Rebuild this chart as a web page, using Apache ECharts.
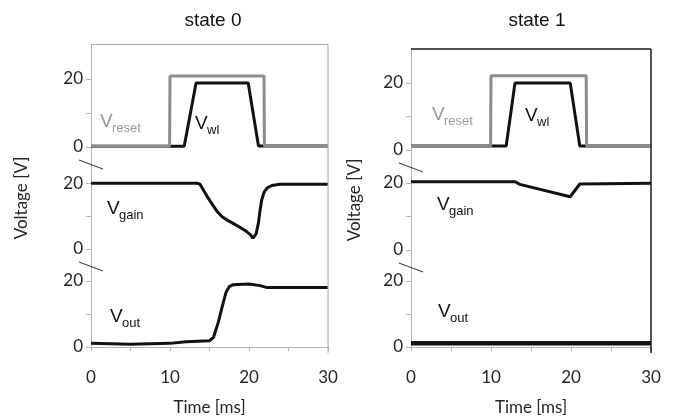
<!DOCTYPE html>
<html>
<head>
<meta charset="utf-8">
<script src="https://cdn.jsdelivr.net/npm/echarts@6/dist/echarts.min.js"></script>
<style>html,body{margin:0;padding:0;background:#fff}#c{width:673px;height:417px}</style>
</head>
<body>
<div id="c"></div>
<script>
// ---- data (time in ms, voltage in V) ----
const panelTitles = ['state 0', 'state 1'];
const xTickValues = [0, 5, 10, 15, 20, 25, 30];
const xLabelValues = [0, 10, 20, 30];
const yTickValues = [0, 10, 20];
const yLabelValues = [0, 20];

const s0Reset = [[0,0.2],[9.95,0.2],[10.0,20.9],[21.9,20.9],[21.95,0.2],[30,0.2]];
const s0Wl    = [[0,0.2],[11.8,0.2],[13.3,18.8],[19.9,18.8],[21.2,0.3],[30,0.3]];
const s0Gain  = [[0,20],[13.4,20],[13.8,19.7],[14.3,17.6],[14.8,15.6],[15.4,13.4],[16.0,11.3],[16.6,9.8],[17.3,8.7],[18.0,7.8],[19.0,6.4],[19.7,5.3],[20.2,4.3],[20.5,3.3],[20.9,4.6],[21.2,8.0],[21.4,11.8],[21.6,14.8],[21.9,17.2],[22.3,18.6],[22.9,19.3],[23.9,19.7],[30,19.7]];
const s0Out   = [[0,1.1],[5,0.8],[10,1.1],[12,1.6],[15,1.9],[15.5,2.9],[16.1,7.4],[16.7,13.1],[17.1,16.6],[17.5,18.3],[18,18.9],[20,19.1],[21.4,18.6],[22.3,18],[30,18]];

const s1Reset = [[0,1.2],[9.95,1.2],[10.0,22.1],[21.9,22.1],[21.95,1.2],[30,1.2]];
const s1Wl    = [[0,1.2],[11.9,1.2],[13.0,20],[19.9,20],[21.1,1.2],[30,1.2]];
const s1Gain  = [[0,20.4],[13.0,20.4],[13.6,19.6],[19.9,15.9],[20.0,15.5],[21.1,19.7],[30,19.9]];
const s1Out   = [[0,1.1],[30,1.1]];

const panelData = [
  {reset: s0Reset, wl: s0Wl, gain: s0Gain, out: s0Out},
  {reset: s1Reset, wl: s1Wl, gain: s1Gain, out: s1Out}
];

// ---- layout ----
const panels = [
  {left: 91, right: 328, tops: [45,147,249], bottoms: [147,249,353], yMax: [30,31,29.7],
   frameTop: 44.5, frameColor: '#a8a8a8', frameWidth: 1, titleX: 213, nameGap: 61,
   labels: [[100,122,'reset','#9a9a9a'],[195,124,'wl','#111'],[107,209,'gain','#111'],[110,317,'out','#111']]},
  {left: 411, right: 651, tops: [49,150,250], bottoms: [150,250,353], yMax: [30.1,29.85,29.4],
   frameTop: 49, frameColor: '#1a1a1a', frameWidth: 1.5, titleX: 537, nameGap: 48,
   labels: [[432,115,'reset','#9a9a9a'],[525,116,'wl','#111'],[437,205,'gain','#111'],[438,312,'out','#111']]}
];

const axisGrey = '#b4b4b4';
const txt = '#262626';
const tickFont = 'Lato, "Open Sans", sans-serif';

const option = {animation: false, grid: [], xAxis: [], yAxis: [], series: [], graphic: []};

panels.forEach((P, p) => {
  for (let g = 0; g < 3; g++) {
    const idx = p * 3 + g;
    option.grid.push({left: P.left, width: P.right - P.left, top: P.tops[g], height: P.bottoms[g] - P.tops[g]});
    option.xAxis.push({
      type: 'value', gridIndex: idx, min: 0, max: 30, show: g === 2,
      axisLine: {show: true, lineStyle: {color: axisGrey, width: 1}},
      axisTick: {show: true, customValues: xTickValues, length: 4, lineStyle: {color: axisGrey}},
      axisLabel: {customValues: xLabelValues, fontSize: 17, fontFamily: tickFont, color: txt, margin: 22},
      splitLine: {show: false},
      name: g === 2 ? 'Time [ms]' : '', nameLocation: 'middle', nameGap: 52,
      nameTextStyle: {fontSize: 17, fontFamily: tickFont, color: txt}
    });
    option.yAxis.push({
      type: 'value', gridIndex: idx, min: 0, max: P.yMax[g],
      axisLine: {show: true, onZero: false, lineStyle: {color: axisGrey, width: 1}},
      axisTick: {show: true, customValues: yTickValues, length: 5, lineStyle: {color: axisGrey}},
      axisLabel: {customValues: yLabelValues, fontSize: 17, fontFamily: tickFont, color: txt, margin: 8},
      splitLine: {show: false},
      name: g === 1 ? 'Voltage [V]' : '', nameLocation: 'middle', nameGap: P.nameGap,
      nameTextStyle: {fontSize: 17, fontFamily: tickFont, color: txt}
    });
  }
  const D = panelData[p];
  const mk = (g, data, color, width, z) => ({
    type: 'line', xAxisIndex: p*3+g, yAxisIndex: p*3+g, data: data, symbol: 'none',
    lineStyle: {color: color, width: width}, z: z, silent: true
  });
  option.series.push(mk(0, D.wl, '#111', 3, 2));
  option.series.push(mk(0, D.reset, '#8c8c8c', 3, 3));
  option.series.push(mk(1, D.gain, '#111', 3, 2));
  option.series.push(mk(2, D.out, '#111', p === 1 ? 4.5 : 3, 2));

  // frame (top & right edges)
  option.graphic.push({type: 'line', shape: {x1: P.left, y1: P.frameTop, x2: P.right, y2: P.frameTop},
    style: {stroke: P.frameColor, lineWidth: P.frameWidth}, z: 10});
  option.graphic.push({type: 'line', shape: {x1: P.right, y1: P.frameTop, x2: P.right, y2: P.bottoms[2]},
    style: {stroke: P.frameColor, lineWidth: P.frameWidth}, z: 10});
  // axis break marks
  for (let g = 0; g < 2; g++) {
    const y0 = P.bottoms[g];
    option.graphic.push({type: 'line', shape: {x1: P.left - 12, y1: y0 + 13, x2: P.left + 12, y2: y0 + 22},
      style: {stroke: '#4a4a4a', lineWidth: 1.3}, z: 11});
  }
  // title
  option.graphic.push({type: 'text', x: P.titleX, y: 21,
    style: {text: panelTitles[p], fill: '#111', font: '19px "Liberation Sans", Arial, sans-serif',
      align: 'center', verticalAlign: 'middle', textAlign: 'center', textVerticalAlign: 'middle'}});
  // series labels
  P.labels.forEach(([x, y, sub, color]) => {
    option.graphic.push({type: 'text', x: x, y: y,
      style: {text: 'V', fill: color, font: '19px "Liberation Sans", Arial, sans-serif',
        align: 'left', verticalAlign: 'middle', textAlign: 'left', textVerticalAlign: 'middle'}});
    option.graphic.push({type: 'text', x: x + 12, y: y + 6,
      style: {text: sub, fill: color, font: '13px "Liberation Sans", Arial, sans-serif',
        align: 'left', verticalAlign: 'middle', textAlign: 'left', textVerticalAlign: 'middle'}});
  });
});

const chart = echarts.init(document.getElementById('c'), null, {renderer: 'canvas'});
chart.setOption(option);
</script>
</body>
</html>
